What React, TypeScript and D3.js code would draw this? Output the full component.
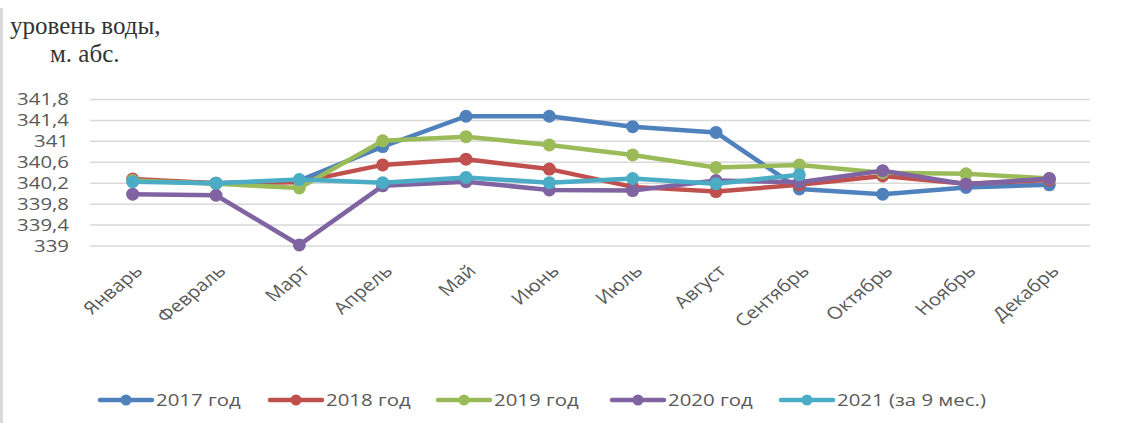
import React from "react";
import * as d3 from "d3";

// Monthly water level, metres above sea level
const months = [
  "Январь", "Февраль", "Март", "Апрель", "Май", "Июнь",
  "Июль", "Август", "Сентябрь", "Октябрь", "Ноябрь", "Декабрь",
];

const yTicks = [339, 339.4, 339.8, 340.2, 340.6, 341, 341.4, 341.8];

const level2017 = [340.25, 340.2, 340.25, 340.9, 341.48, 341.48, 341.28, 341.17, 340.09, 339.99, 340.12, 340.17];
const level2018 = [340.28, 340.2, 340.22, 340.55, 340.66, 340.47, 340.13, 340.04, 340.17, 340.34, 340.19, 340.26];
const level2019 = [340.25, 340.19, 340.11, 341.01, 341.09, 340.93, 340.74, 340.5, 340.55, 340.4, 340.38, 340.29];
const level2020 = [339.99, 339.97, 339.02, 340.15, 340.23, 340.07, 340.06, 340.25, 340.22, 340.44, 340.18, 340.29];
const level2021 = [340.23, 340.2, 340.27, 340.21, 340.31, 340.21, 340.29, 340.19, 340.36];

const seriesNames = ["2017 год", "2018 год", "2019 год", "2020 год", "2021 (за 9 мес.)"];
const seriesValues = [level2017, level2018, level2019, level2020, level2021];
const seriesColors = ["#4F81BD", "#C0504D", "#9BBB59", "#8064A2", "#4BACC6"];

const W = 1124;
const H = 423;
const plotLeft = 90;
const plotRight = 1090;
const plotTop = 99.5;
const plotBottom = 246;

const axisFont = "'Open Sans', 'Noto Sans', sans-serif";
const axisColor = "#595959";
const stretch = 1.2;

export default function App() {
  const x = d3.scaleBand<string>().domain(months).range([plotLeft + 1, plotRight + 1]);
  const cx = (m: string) => (x(m) ?? 0) + x.bandwidth() / 2;
  const y = d3.scaleLinear().domain([339, 341.8]).range([plotBottom, plotTop]);
  const fmt = (v: number) => String(+v.toFixed(1)).replace(".", ",");

  const line = d3
    .line<number>()
    .x((_, i) => cx(months[i]))
    .y((d) => y(d));

  const legendX = [100, 270, 438, 612, 781];
  const legendY = 400;

  return (
    <svg
      width={W}
      height={H}
      viewBox={`0 0 ${W} ${H}`}
      style={{ position: "absolute", left: 0, top: 0, display: "block", background: "#fff" }}
    >
      <rect x={0} y={0} width={W} height={H} fill="#fff" />
      {/* frame edge on the left */}
      <line x1={1.5} x2={1.5} y1={8} y2={H} stroke="#d9d9d9" strokeWidth={3} />

      {/* axis title */}
      <g fontFamily="'Liberation Serif', 'Times New Roman', serif" fontSize={25} fill="#333">
        <text x={10} y={34}>уровень воды,</text>
        <text x={50} y={61.5}>м. абс.</text>
      </g>

      {/* horizontal gridlines */}
      <g>
        {yTicks.map((t) => (
          <line
            key={t}
            x1={plotLeft}
            x2={plotRight}
            y1={y(t)}
            y2={y(t)}
            stroke="#d9d9d9"
            strokeWidth={1.5}
          />
        ))}
      </g>

      {/* y tick labels */}
      <g fontFamily={axisFont} fontSize={17} fill={axisColor}>
        {yTicks.map((t) => (
          <text
            key={t}
            transform={`translate(69,${y(t)}) scale(${stretch},1)`}
            textAnchor="end"
            dy="0.35em"
          >
            {fmt(t)}
          </text>
        ))}
      </g>

      {/* month labels */}
      <g fontFamily={axisFont} fontSize={17} fill={axisColor}>
        {months.map((m) => (
          <text
            key={m}
            transform={`translate(${cx(m) + 6},268) scale(${stretch},1) rotate(-45)`}
            textAnchor="end"
            dy="0.35em"
          >
            {m}
          </text>
        ))}
      </g>

      {/* series */}
      {seriesValues.map((vals, s) => (
        <g key={seriesNames[s]}>
          <path
            d={line(vals) ?? ""}
            fill="none"
            stroke={seriesColors[s]}
            strokeWidth={4.5}
            strokeLinejoin="round"
            strokeLinecap="round"
          />
          {vals.map((v, i) => (
            <circle key={i} cx={cx(months[i])} cy={y(v)} r={6.5} fill={seriesColors[s]} />
          ))}
        </g>
      ))}

      {/* legend */}
      <g fontFamily={axisFont} fontSize={17} fill={axisColor}>
        {seriesNames.map((name, s) => (
          <g key={name}>
            <line
              x1={legendX[s]}
              x2={legendX[s] + 52}
              y1={legendY}
              y2={legendY}
              stroke={seriesColors[s]}
              strokeWidth={4.5}
              strokeLinecap="round"
            />
            <circle cx={legendX[s] + 26} cy={legendY} r={5.5} fill={seriesColors[s]} />
            <text
              transform={`translate(${legendX[s] + 56},${legendY}) scale(${stretch},1)`}
              dy="0.35em"
            >
              {name}
            </text>
          </g>
        ))}
      </g>
    </svg>
  );
}
